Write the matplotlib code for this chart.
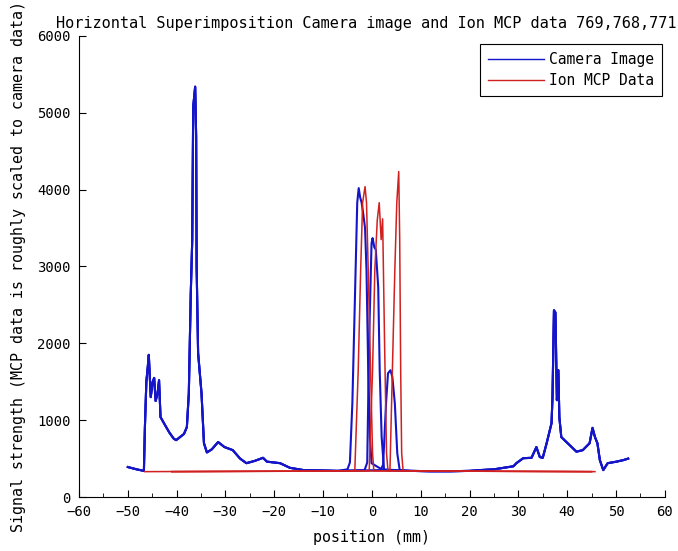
import matplotlib
matplotlib.use('Agg')
import matplotlib.pyplot as plt
from matplotlib.ticker import MultipleLocator

# camera image, outer wings (shared by the three runs)
cam_left_x = [-50, -48.2, -46.7, -46.5, -46.2, -45.9, -45.7, -45.3, -44.9, -44.6,
              -44.3, -43.9, -43.6, -43.3, -42.5, -41.5, -40.6, -40.1, -39.3, -38.5,
              -37.9, -37.5, -37.1, -36.8, -36.6, -36.2, -36.0, -35.9, -35.6, -34.9,
              -34.4, -33.8, -32.8, -31.5, -30.2, -28.5, -27.0, -25.7, -24.0, -22.3,
              -21.5, -18.8, -16.8, -14, -10, -7]
cam_left_y = [390, 360, 340, 900, 1500, 1700, 1850, 1300, 1500, 1550,
              1250, 1350, 1520, 1040, 950, 840, 760, 740, 780, 820,
              910, 1350, 2650, 3350, 5080, 5340, 4690, 3000, 1875, 1350,
              700, 580, 620, 715, 650, 610, 500, 440, 470, 510,
              460, 440, 380, 350, 345, 340]

cam_right_x = [8, 12, 16, 20, 22.1, 25, 27, 29, 29.6, 31, 32.7, 33.7, 34.4, 35,
               35.8, 36.8, 37.0, 37.3, 37.6, 37.9, 38.2, 38.4, 38.8, 40.1, 41.9,
               43.2, 44.6, 45.2, 45.7, 46.2, 46.7, 47.4, 48.3, 50.1, 51.5, 52.5]
cam_right_y = [340, 335, 335, 340, 350, 360, 380, 400, 440, 505, 510, 650, 520, 510,
               700, 960, 1300, 2430, 2400, 1260, 1650, 1040, 780, 700, 590,
               610, 700, 900, 780, 700, 480, 350, 440, 460, 480, 500]

# camera image, central peak of each run
cam_mid_x = [
    [-7, -5, -4.5, -4.0, -3.5, -3.0, -2.7, -2.4, -2.1, -1.8, -1.4, -1.1, -0.75, -0.4, -0.07, 2, 8],
    [-7, -1.5, -0.95, -0.55, -0.07, 0.14, 0.5, 0.8, 1.3, 1.6, 2.0, 2.5, 8],
    [-7, 1.8, 2.3, 2.9, 3.3, 3.8, 4.2, 4.7, 5.2, 5.7, 8],
]
cam_mid_y = [
    [340, 360, 450, 1220, 2520, 3830, 4020, 3900, 3830, 3700, 3500, 2950, 1650, 780, 440, 360, 340],
    [340, 350, 450, 2080, 3300, 3370, 3250, 3220, 2730, 1650, 780, 350, 340],
    [340, 350, 420, 1220, 1610, 1650, 1560, 1220, 570, 350, 340],
]

# ion MCP data (roughly scaled)
mcp_x = [
    [-46.5, -3.5, -2.8, -2.3, -1.9, -1.4, -1.1, -0.75, -0.27, 0.14, 0.4, 45.7],
    [-41, -0.55, 0.14, 0.6, 1.1, 1.5, 1.9, 2.2, 2.6, 3.0, 3.3, 45],
    [-41, 3.7, 4.2, 4.7, 5.1, 5.5, 5.7, 5.9, 6.1, 6.4, 45],
]
mcp_y = [
    [330, 340, 1650, 2950, 3830, 4040, 3830, 2950, 1650, 570, 340, 330],
    [330, 340, 1650, 2950, 3600, 3830, 3350, 3620, 2000, 570, 340, 330],
    [330, 340, 1650, 2950, 3830, 4235, 3350, 1650, 570, 340, 330],
]

plt.rcParams['font.family'] = ['DejaVu Sans Mono']

fig = plt.figure(figsize=(6.78, 5.51), dpi=100)
ax = fig.add_axes([0.1165, 0.098, 0.864, 0.8367])

for i in range(3):
    xs = cam_left_x + cam_mid_x[i] + cam_right_x
    ys = cam_left_y + cam_mid_y[i] + cam_right_y
    ax.plot(xs, ys, color='#1414c8', lw=1.5, label='Camera Image' if i == 0 else None)

for i in range(3):
    ax.plot(mcp_x[i], mcp_y[i], color='#d02020', lw=1.1, label='Ion MCP Data' if i == 0 else None)

ax.set_xlim(-60, 60)
ax.set_ylim(0, 6000)
ax.xaxis.set_major_locator(MultipleLocator(10))
ax.xaxis.set_minor_locator(MultipleLocator(5))
ax.yaxis.set_major_locator(MultipleLocator(1000))

ax.spines['top'].set_visible(False)
ax.spines['right'].set_visible(False)
ax.tick_params(which='both', direction='in', labelsize=10)
ax.tick_params(axis='x', pad=6)
ax.tick_params(axis='y', pad=6)
ax.tick_params(which='major', length=5)
ax.tick_params(which='minor', length=3)

ax.set_title('Horizontal Superimposition Camera image and Ion MCP data 769,768,771',
             fontsize=11, pad=6, x=0.49)
ax.set_xlabel('position (mm)', fontsize=10.8, labelpad=8)
ax.set_ylabel('Signal strength (MCP data is roughly scaled to camera data)', fontsize=10.8, labelpad=8)

leg = ax.legend(loc='upper right', bbox_to_anchor=(0.995, 0.983), borderaxespad=0,
                fontsize=10.5, fancybox=False, framealpha=1, edgecolor='black',
                handlelength=3.9, handletextpad=0.3, labelspacing=0.45, borderpad=0.55)
leg.get_frame().set_linewidth(0.8)
for h in leg.get_lines():
    h.set_linewidth(1.0)

fig.savefig('out.png', dpi=100)
